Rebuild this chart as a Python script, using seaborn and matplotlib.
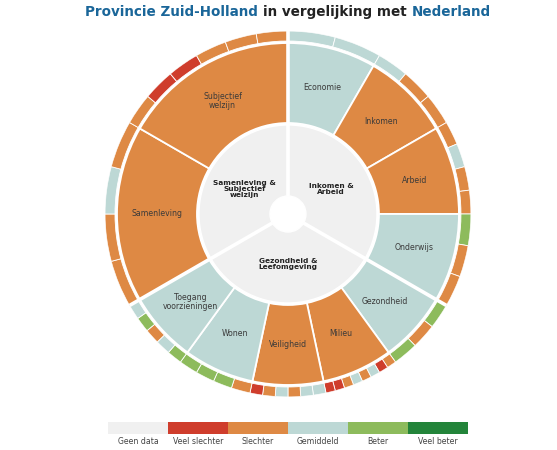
import matplotlib
matplotlib.use("agg")
import matplotlib.pyplot as plt
import numpy as np
import seaborn as sns

# themes (inner ring), clockwise from the top
themeLabels = ['Inkomen &\nArbeid', 'Gezondheid &\nLeefomgeving', 'Samenleving &\nSubjectief\nwelzijn']

# sub-themes (middle ring), clockwise from the top
subthemeLabels = ['Economie', 'Inkomen', 'Arbeid', 'Onderwijs',
                  'Gezondheid', 'Milieu', 'Veiligheid', 'Wonen', 'Toegang\nvoorzieningen',
                  'Samenleving', 'Subjectief\nwelzijn']
subthemeTheme = [0, 0, 0, 0, 1, 1, 1, 1, 1, 2, 2]
# 0 geen data, 1 veel slechter, 2 slechter, 3 gemiddeld, 4 beter, 5 veel beter
subthemeScore = [3, 2, 2, 3, 3, 2, 2, 3, 3, 2, 2]

# indicators (outer ring) per sub-theme, clockwise
indicatorScores = [
    [3, 3],                      # Economie
    [3, 2, 2],                   # Inkomen
    [2, 3, 2, 2],                # Arbeid
    [4, 2, 2],                   # Onderwijs
    [4, 2, 4],                   # Gezondheid
    [2, 1, 3, 2, 3, 2, 1, 1],    # Milieu
    [3, 3, 2, 3, 2, 1],          # Veiligheid
    [2, 4, 4, 4],                # Wonen
    [4, 3, 2, 4, 3],             # Toegang voorzieningen
    [2, 2, 3, 2],                # Samenleving
    [2, 1, 1, 2, 2, 2],          # Subjectief welzijn
]

scoreLabels = ['Geen data', 'Veel slechter', 'Slechter', 'Gemiddeld', 'Beter', 'Veel beter']
scoreColors = ['#f0f0f0', '#cf3d2c', '#de8944', '#bdd8d5', '#8dbb5c', '#23843a']

sns.set_theme(style='white')
plt.rcParams['font.family'] = ['DejaVu Sans']

fig = plt.figure(figsize=(5.57, 4.5), dpi=100)
ax = fig.add_axes([0.1885, 0.1178, 0.657, 0.8133], projection='polar')
ax.set_theta_zero_location('N')
ax.set_theta_direction(-1)

rHole, rInner, rMidLo, rMidHi, rOutLo, rOutHi = 18, 89, 91, 171, 173, 183

nThemes = len(themeLabels)
themeSpan = 2 * np.pi / nThemes

# inner ring
themeStart = np.arange(nThemes) * themeSpan
ax.bar(themeStart, rInner - rHole, width=themeSpan, bottom=rHole, align='edge',
       color=scoreColors[0], edgecolor='white', linewidth=1)
for i, lab in enumerate(themeLabels):
    ax.text(themeStart[i] + themeSpan / 2, 50, lab, ha='center', va='center',
            fontsize=5.3, fontweight='bold', color='#222222', linespacing=1.0)

# middle + outer ring
subStart = []
subWidth = []
for t in range(nThemes):
    members = [i for i, s in enumerate(subthemeTheme) if s == t]
    w = themeSpan / len(members)
    for k, i in enumerate(members):
        subStart.append(themeStart[t] + k * w)
        subWidth.append(w)

ax.bar(subStart, rMidHi - rMidLo, width=subWidth, bottom=rMidLo, align='edge',
       color=[scoreColors[s] for s in subthemeScore], edgecolor='white', linewidth=1.3)

for i, lab in enumerate(subthemeLabels):
    ax.text(subStart[i] + subWidth[i] / 2, 131, lab, ha='center', va='center',
            fontsize=5.6, color='#3a3a3a', linespacing=1.0)

indStart, indWidth, indColor = [], [], []
for i, scores in enumerate(indicatorScores):
    w = subWidth[i] / len(scores)
    for k, s in enumerate(scores):
        indStart.append(subStart[i] + k * w)
        indWidth.append(w)
        indColor.append(scoreColors[s])
ax.bar(indStart, rOutHi - rOutLo, width=indWidth, bottom=rOutLo, align='edge',
       color=indColor, edgecolor='white', linewidth=0.6)

# thick white lines between themes
for t in themeStart:
    ax.plot([t, t], [rHole, rOutHi], color='white', lw=2.6, solid_capstyle='butt')

ax.set_ylim(0, rOutHi)
ax.axis('off')

# title in three colours
fig.canvas.draw()
renderer = fig.canvas.get_renderer()
parts = [('Provincie Zuid-Holland ', '#1a6699'), ('in vergelijking met ', '#222222'), ('Nederland', '#1a6699')]
texts = []
x = 0
for s, c in parts:
    tx = fig.text(x, 0.973, s, fontsize=9.75, fontweight='bold', color=c, ha='left', va='center')
    texts.append(tx)
    bb = tx.get_window_extent(renderer)
    x += bb.width / fig.bbox.width
total = x
x = 288 / 557 - total / 2
for tx in texts:
    tx.set_x(x)
    x += tx.get_window_extent(renderer).width / fig.bbox.width

# legend
lax = fig.add_axes([108 / 557, 16 / 450, 360 / 557, 12 / 450])
sns.barplot(x=scoreLabels, y=[1] * len(scoreLabels), hue=scoreLabels, order=scoreLabels,
            hue_order=scoreLabels, palette=scoreColors, width=1, legend=False,
            saturation=1, linewidth=0, ax=lax)
lax.set_xlim(-0.5, len(scoreLabels) - 0.5)
lax.set_ylim(0, 1)
lax.set_yticks([])
lax.set_xlabel('')
lax.set_ylabel('')
for sp in lax.spines.values():
    sp.set_visible(False)
lax.tick_params(axis='x', length=0, pad=2.5, labelsize=5.6, labelcolor='#444444')

fig.savefig('out.png', dpi=100)
